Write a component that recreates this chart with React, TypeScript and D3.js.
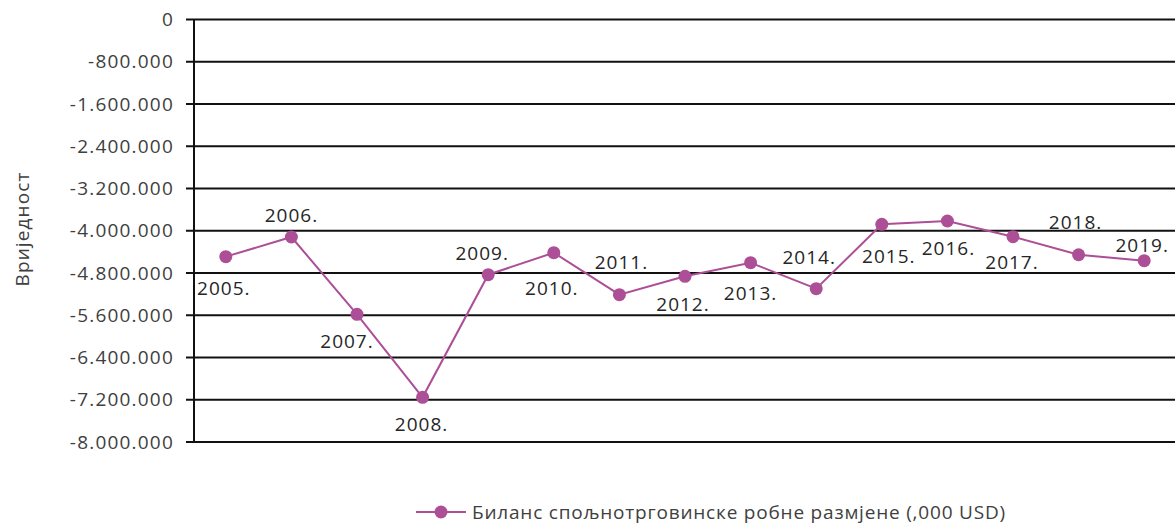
import React from "react";
import * as d3 from "d3";

const years = ["2005.", "2006.", "2007.", "2008.", "2009.", "2010.", "2011.", "2012.", "2013.", "2014.", "2015.", "2016.", "2017.", "2018.", "2019."];
const balance = [-4490000, -4118000, -5582000, -7154000, -4832000, -4416000, -5211000, -4863000, -4605000, -5097000, -3878000, -3815000, -4113000, -4454000, -4567000];
const yTicks = [0, -800000, -1600000, -2400000, -3200000, -4000000, -4800000, -5600000, -6400000, -7200000, -8000000];
const seriesName = "Биланс спољнотрговинске робне размјене (,000 USD)";
const yTitle = "Вриједност";

// label placement offsets (layout): [dx, baseline dy]
const labelOffsets: [number, number][] = [
  [-2, 38], [0, -15], [-10, 34], [-1, 34], [-6, -15], [-2, 42], [2, -26], [-2, 35],
  [0, 37], [-7, -25], [7, 39], [1, 34], [-1, 32], [-3, -26], [-2, -9],
];

const W = 1175;
const H = 527;
const FONT = "'Open Sans', 'DejaVu Sans', sans-serif";

export default function App() {
  const x = d3.scalePoint<string>().domain(years).range([193, 1177]).padding(0.5);
  const y = d3.scaleLinear().domain([-8000000, 0]).range([442, 19.5]);
  const fmt = (v: number) => (v === 0 ? "0" : "-" + d3.format(",")(Math.abs(v)).replace(/,/g, "."));
  const line = d3
    .line<number>()
    .x((_, i) => x(years[i]) as number)
    .y((d) => y(d));
  const axisX = 194;
  const color = "#ad4f97";

  return (
    <svg width={W} height={H} style={{ position: "absolute", left: 0, top: 0, background: "#fff" }} fontFamily={FONT}>
      <rect width={W} height={H} fill="#fff" />
      {yTicks.map((t) => (
        <g key={t}>
          <line x1={axisX - 8} x2={W} y1={y(t)} y2={y(t)} stroke="#111" strokeWidth={1.8} />
          <text x={174} y={y(t)} dy="0.35em" textAnchor="end" fontSize={19} letterSpacing={1.2} fill="#404040">
            {fmt(t)}
          </text>
        </g>
      ))}
      <line x1={axisX} x2={axisX} y1={y(0)} y2={y(-8000000)} stroke="#111" strokeWidth={2} />
      <text
        transform={`translate(22,229) rotate(-90)`}
        textAnchor="middle"
        dy="0.35em"
        fontSize={19}
        letterSpacing={1.1}
        fill="#404040"
      >
        {yTitle}
      </text>
      <path d={line(balance) ?? ""} fill="none" stroke={color} strokeWidth={2} />
      {balance.map((v, i) => (
        <circle key={years[i]} cx={x(years[i])} cy={y(v)} r={6.5} fill={color} />
      ))}
      {balance.map((v, i) => (
        <text
          key={"l" + years[i]}
          x={(x(years[i]) as number) + labelOffsets[i][0]}
          y={y(v) + labelOffsets[i][1]}
          textAnchor="middle"
          fontSize={19}
          letterSpacing={1}
          fill="#262626"
        >
          {years[i]}
        </text>
      ))}
      <g>
        <line x1={416} x2={466} y1={512} y2={512} stroke={color} strokeWidth={2} />
        <circle cx={441} cy={512} r={6.5} fill={color} />
        <text x={472} y={512} dy="0.35em" fontSize={19} letterSpacing={0.8} fill="#404040">
          {seriesName}
        </text>
      </g>
    </svg>
  );
}
